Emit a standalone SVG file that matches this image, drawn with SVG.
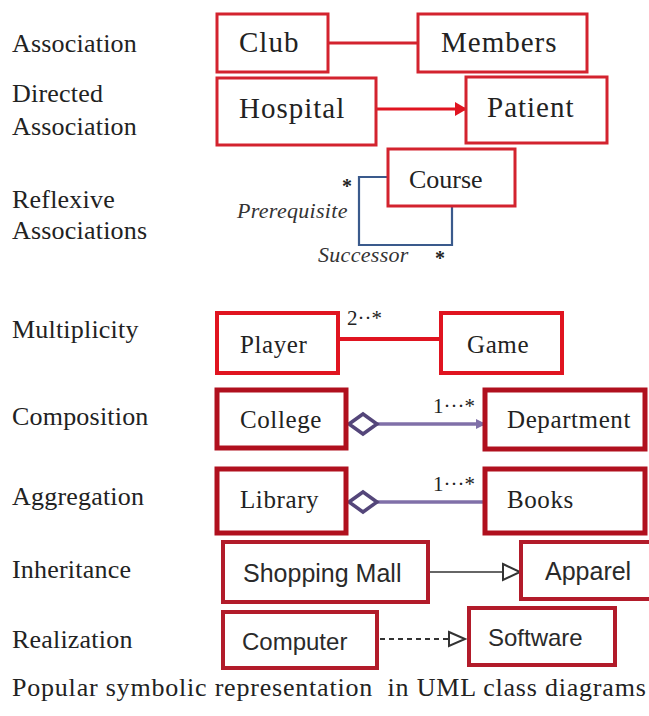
<svg xmlns="http://www.w3.org/2000/svg" width="649" height="716" viewBox="0 0 649 716">
  <style>
    .lbl { font-family: "Liberation Serif", "Times New Roman", serif; font-size: 26px; letter-spacing: 0.2px; fill: #222; }
    .bx-a { fill: #fff; stroke: #d3232e; stroke-width: 3; }
    .bx-b { fill: #fff; stroke: #e01420; stroke-width: 4; }
    .bx-c { fill: #fff; stroke: #b0101e; stroke-width: 5; }
    .bx-d { fill: #fff; stroke: #b21b2a; stroke-width: 4; }
    .t-serif { font-family: "Liberation Serif", "Times New Roman", serif; fill: #222; }
    .t-big { font-size: 29px; letter-spacing: 1px; }
    .t-mid { font-size: 25px; letter-spacing: 0.6px; }
    .t-sans { font-family: "Liberation Sans", Arial, sans-serif; fill: #2a2a2a; }
    .role { font-family: "Liberation Serif", "Times New Roman", serif; font-style: italic; font-size: 22px; letter-spacing: 0.3px; fill: #333; }
    .mult { font-family: "Liberation Serif", "Times New Roman", serif; font-size: 21px; fill: #222; }
    .star { font-family: "Liberation Serif", serif; font-weight: bold; font-size: 20px; fill: #222; }
  </style>
  <defs>
    <marker id="redHead" viewBox="0 0 12 14" refX="11" refY="7" markerWidth="12" markerHeight="14" markerUnits="userSpaceOnUse" orient="auto">
      <path d="M0,0 L12,7 L0,14 Z" fill="#e01420"/>
    </marker>
    <marker id="purpleHead" viewBox="0 0 10 10" refX="9" refY="5" markerWidth="10" markerHeight="10" markerUnits="userSpaceOnUse" orient="auto">
      <path d="M0,0 L10,5 L0,10 Z" fill="#8070a8"/>
    </marker>
  </defs>

  <!-- row labels -->
  <g id="labels">
    <text class="lbl" x="12" y="52">Association</text>
    <text class="lbl" x="12" y="102">Directed</text>
    <text class="lbl" x="12" y="135">Association</text>
    <text class="lbl" x="12" y="208">Reflexive</text>
    <text class="lbl" x="12" y="239">Associations</text>
    <text class="lbl" x="12" y="338">Multiplicity</text>
    <text class="lbl" x="12" y="425">Composition</text>
    <text class="lbl" x="12" y="505">Aggregation</text>
    <text class="lbl" x="12" y="578">Inheritance</text>
    <text class="lbl" x="12" y="648">Realization</text>
  </g>

  <!-- connectors -->
  <g id="connectors">
    <!-- association -->
    <line x1="328" y1="43" x2="418" y2="43" stroke="#d3232e" stroke-width="3"/>
    <!-- directed association -->
    <line x1="376" y1="109" x2="466" y2="109" stroke="#e01420" stroke-width="3" marker-end="url(#redHead)"/>
    <!-- reflexive -->
    <path d="M388,177 H359 V245 H452 V207" fill="none" stroke="#3a5a8c" stroke-width="2.2"/>
    <!-- multiplicity -->
    <line x1="338" y1="339" x2="441" y2="339" stroke="#e01420" stroke-width="4"/>
    <!-- composition -->
    <line x1="377" y1="424" x2="485" y2="424" stroke="#8070a8" stroke-width="3.5" marker-end="url(#purpleHead)"/>
    <path d="M349,424 L363,414 L377,424 L363,434 Z" fill="#fff" stroke="#54467a" stroke-width="3.5"/>
    <!-- aggregation -->
    <line x1="377" y1="502" x2="485" y2="502" stroke="#8070a8" stroke-width="3.5"/>
    <path d="M349,502 L363,492 L377,502 L363,512 Z" fill="#fff" stroke="#54467a" stroke-width="3.5"/>
    <!-- inheritance -->
    <line x1="428" y1="572" x2="503" y2="572" stroke="#333" stroke-width="1.6"/>
    <path d="M503,564 L520,572 L503,580 Z" fill="#fff" stroke="#333" stroke-width="2"/>
    <!-- realization -->
    <line x1="380" y1="639" x2="449" y2="639" stroke="#333" stroke-width="1.8" stroke-dasharray="5,4"/>
    <path d="M449,632 L465,639 L449,646 Z" fill="#fff" stroke="#333" stroke-width="2"/>
  </g>

  <!-- connector annotations -->
  <g id="annotations">
    <text class="star" x="347" y="193" text-anchor="middle">*</text>
    <text class="role" x="237" y="218">Prerequisite</text>
    <text class="role" x="318" y="262">Successor</text>
    <text class="star" x="440" y="265" text-anchor="middle">*</text>
    <text class="mult" x="347" y="325" font-size="19">2··*</text>
    <text class="mult" x="433" y="413">1···*</text>
    <text class="mult" x="433" y="491">1···*</text>
  </g>

  <g id="club">
    <rect class="bx-a" x="217" y="14" width="111" height="58"/>
    <text class="t-serif t-big" x="239" y="52">Club</text>
  </g>
  <g id="members">
    <rect class="bx-a" x="418" y="14" width="169" height="58"/>
    <text class="t-serif t-big" x="441" y="52">Members</text>
  </g>
  <g id="hospital">
    <rect class="bx-a" x="217" y="78" width="159" height="67"/>
    <text class="t-serif t-big" x="239" y="118">Hospital</text>
  </g>
  <g id="patient">
    <rect class="bx-a" x="466" y="77" width="141" height="66"/>
    <text class="t-serif t-big" x="487" y="117">Patient</text>
  </g>
  <g id="course">
    <rect class="bx-a" x="388" y="149" width="127" height="57"/>
    <text class="t-serif" x="409" y="188" font-size="26">Course</text>
  </g>
  <g id="player">
    <rect class="bx-b" x="217" y="313" width="121" height="60"/>
    <text class="t-serif t-mid" x="240" y="353">Player</text>
  </g>
  <g id="game">
    <rect class="bx-b" x="441" y="313" width="121" height="60"/>
    <text class="t-serif t-mid" x="467" y="353">Game</text>
  </g>
  <g id="college">
    <rect class="bx-c" x="217" y="390" width="129" height="58"/>
    <text class="t-serif t-mid" x="240" y="428">College</text>
  </g>
  <g id="department">
    <rect class="bx-c" x="485" y="390" width="160" height="59"/>
    <text class="t-serif t-mid" x="507" y="428">Department</text>
  </g>
  <g id="library">
    <rect class="bx-c" x="217" y="469" width="129" height="64"/>
    <text class="t-serif t-mid" x="240" y="508">Library</text>
  </g>
  <g id="books">
    <rect class="bx-c" x="485" y="469" width="160" height="64"/>
    <text class="t-serif t-mid" x="507" y="508">Books</text>
  </g>
  <g id="shopping-mall">
    <rect class="bx-d" x="223" y="542" width="205" height="60"/>
    <text class="t-sans" x="243" y="582" font-size="25">Shopping Mall</text>
  </g>
  <g id="apparel">
    <rect class="bx-d" x="521" y="542" width="132" height="57"/>
    <text class="t-sans" x="545" y="580" font-size="25">Apparel</text>
  </g>
  <g id="computer">
    <rect class="bx-d" x="223" y="612" width="154" height="56"/>
    <text class="t-sans" x="242" y="650" font-size="24">Computer</text>
  </g>
  <g id="software">
    <rect class="bx-d" x="469" y="608" width="146" height="57"/>
    <text class="t-sans" x="488" y="646" font-size="24">Software</text>
  </g>

  <text class="lbl" x="12" y="696" font-size="27" textLength="634" lengthAdjust="spacing" style="white-space: pre">Popular symbolic representation  in UML class diagrams</text>
</svg>
